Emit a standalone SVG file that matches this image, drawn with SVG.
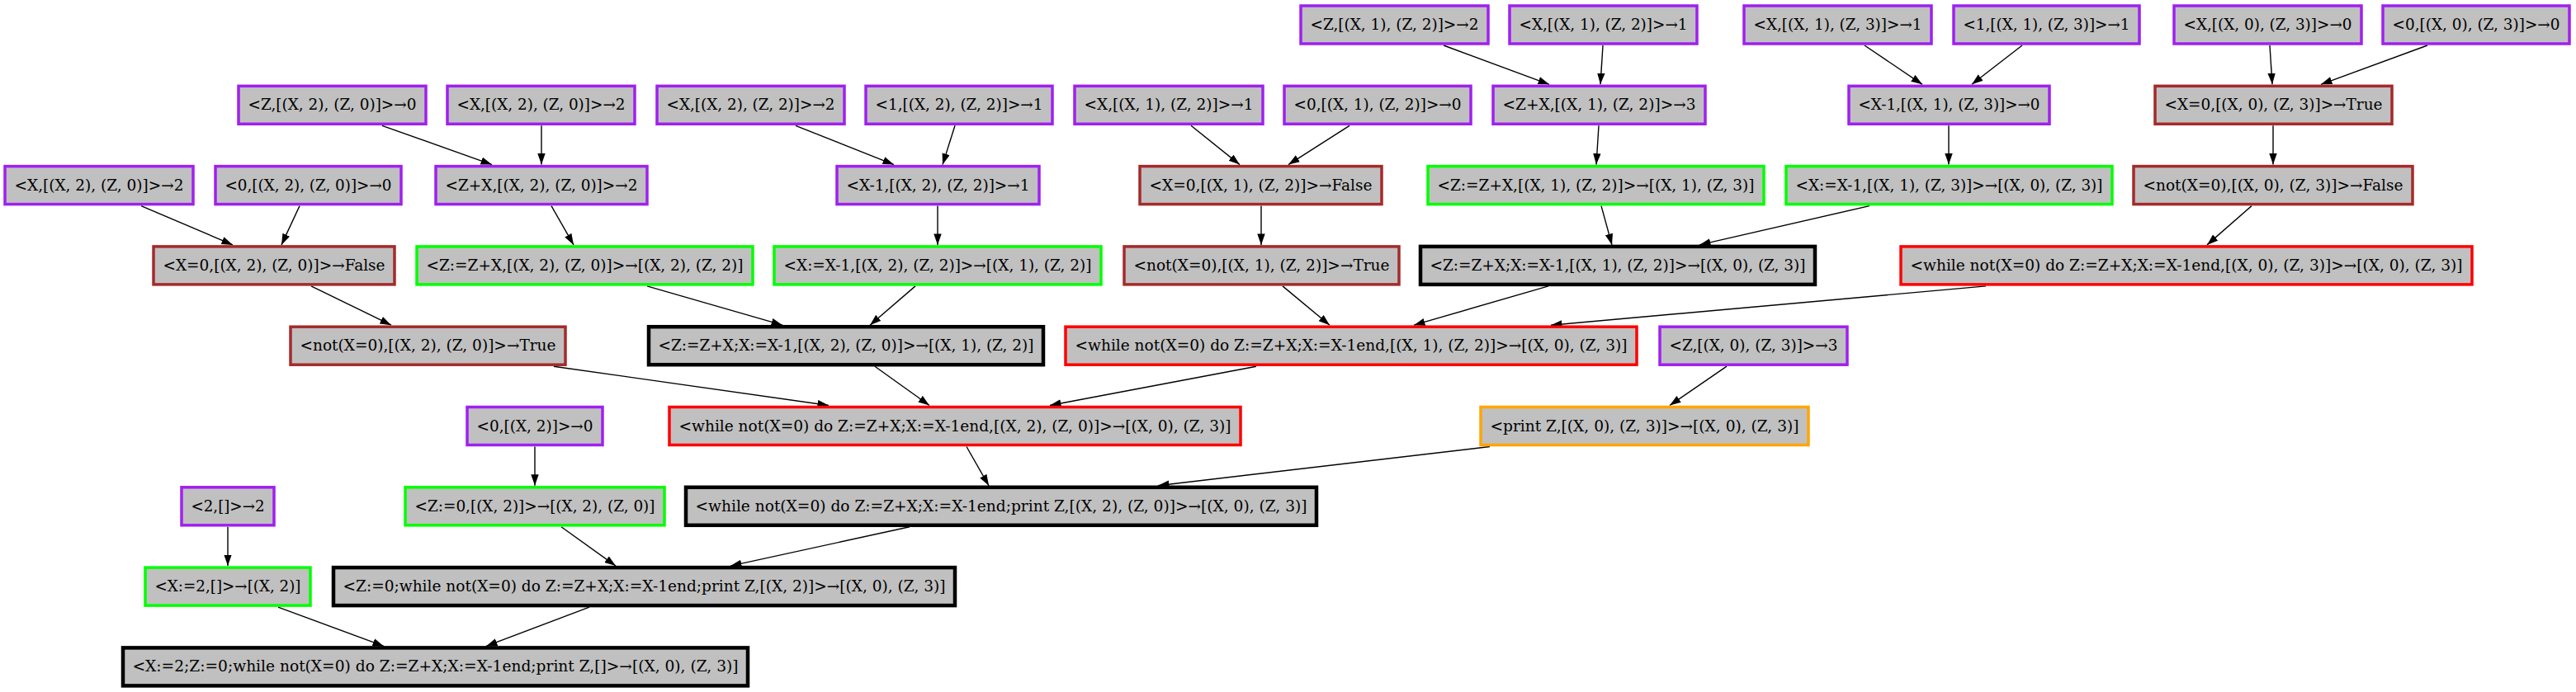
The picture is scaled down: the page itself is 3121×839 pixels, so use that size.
<svg xmlns="http://www.w3.org/2000/svg" width="3121" height="839" viewBox="0 0 3121 839">
<style>
rect{fill:#c0c0c0;stroke-width:3.5}
.p{stroke:#a020f0}.b{stroke:#a52a2a}.g{stroke:#00ff00}.r{stroke:#ff0000}.o{stroke:#ffa500}.k{stroke:#000;stroke-width:4.5}
text{font-family:"DejaVu Serif","Liberation Serif",serif;font-size:18.5px;fill:#000;text-anchor:middle}
#edges line{stroke:#000;stroke-width:1.4;marker-end:url(#ah)}
</style>
<defs>
<marker id="ah" markerUnits="userSpaceOnUse" markerWidth="14" markerHeight="10" refX="13.5" refY="4.7" orient="auto"><path d="M0,0L13.5,4.7L0,9.4z" fill="#000"/></marker>
</defs>
<rect x="0" y="0" width="3121" height="839" style="fill:#fff;stroke:none"/>
<g id="edges">
<line x1="1749" y1="55" x2="1877" y2="102.3"/>
<line x1="1942" y1="55" x2="1939" y2="102.3"/>
<line x1="2259" y1="55" x2="2329" y2="102.3"/>
<line x1="2450" y1="55" x2="2389" y2="102.3"/>
<line x1="2750" y1="55" x2="2753" y2="102.3"/>
<line x1="2941" y1="55" x2="2812" y2="102.3"/>
<line x1="463" y1="152.3" x2="596" y2="199.6"/>
<line x1="656" y1="152.3" x2="656" y2="199.6"/>
<line x1="964" y1="152.3" x2="1083" y2="199.6"/>
<line x1="1157" y1="152.3" x2="1142" y2="199.6"/>
<line x1="1443" y1="152.3" x2="1502" y2="199.6"/>
<line x1="1635" y1="152.3" x2="1561" y2="199.6"/>
<line x1="1937" y1="152.3" x2="1934" y2="199.6"/>
<line x1="2361" y1="152.3" x2="2361" y2="199.6"/>
<line x1="2754" y1="152.3" x2="2754" y2="199.6"/>
<line x1="171" y1="249.6" x2="282" y2="296.9"/>
<line x1="363" y1="249.6" x2="341" y2="296.9"/>
<line x1="668" y1="249.6" x2="695" y2="296.9"/>
<line x1="1136" y1="249.6" x2="1136" y2="296.9"/>
<line x1="1528" y1="249.6" x2="1528" y2="296.9"/>
<line x1="1940" y1="249.6" x2="1953" y2="296.9"/>
<line x1="2265" y1="249.6" x2="2059" y2="296.9"/>
<line x1="2728" y1="249.6" x2="2674" y2="296.9"/>
<line x1="377" y1="346.9" x2="474" y2="394.2"/>
<line x1="784" y1="346.9" x2="948" y2="394.2"/>
<line x1="1109" y1="346.9" x2="1054" y2="394.2"/>
<line x1="1554" y1="346.9" x2="1611" y2="394.2"/>
<line x1="1876" y1="346.9" x2="1713" y2="394.2"/>
<line x1="2406" y1="346.9" x2="1879" y2="394.2"/>
<line x1="671" y1="444.2" x2="1004" y2="491.5"/>
<line x1="1060" y1="444.2" x2="1126" y2="491.5"/>
<line x1="1522" y1="444.2" x2="1272" y2="491.5"/>
<line x1="2092" y1="444.2" x2="2023" y2="491.5"/>
<line x1="648" y1="541.5" x2="648" y2="588.8"/>
<line x1="1171" y1="541.5" x2="1198" y2="588.8"/>
<line x1="1805" y1="541.5" x2="1403" y2="588.8"/>
<line x1="276" y1="638.8" x2="276" y2="686.1"/>
<line x1="680" y1="638.8" x2="746" y2="686.1"/>
<line x1="1102" y1="638.8" x2="885" y2="686.1"/>
<line x1="337" y1="736.1" x2="465" y2="783.4"/>
<line x1="714" y1="736.1" x2="589" y2="783.4"/>
</g>
<g id="a1"><rect class="p" x="1576" y="7" width="227" height="46"/><text x="1689.5" y="36" textLength="204" lengthAdjust="spacingAndGlyphs">&lt;Z,[(X, 1), (Z, 2)]&gt;→2</text></g>
<g id="a2"><rect class="p" x="1829" y="7" width="227" height="46"/><text x="1942.5" y="36" textLength="204" lengthAdjust="spacingAndGlyphs">&lt;X,[(X, 1), (Z, 2)]&gt;→1</text></g>
<g id="a3"><rect class="p" x="2113" y="7" width="227" height="46"/><text x="2226.5" y="36" textLength="204" lengthAdjust="spacingAndGlyphs">&lt;X,[(X, 1), (Z, 3)]&gt;→1</text></g>
<g id="a4"><rect class="p" x="2367" y="7" width="225" height="46"/><text x="2479.5" y="36" textLength="202" lengthAdjust="spacingAndGlyphs">&lt;1,[(X, 1), (Z, 3)]&gt;→1</text></g>
<g id="a5"><rect class="p" x="2634" y="7" width="227" height="46"/><text x="2747.5" y="36" textLength="204" lengthAdjust="spacingAndGlyphs">&lt;X,[(X, 0), (Z, 3)]&gt;→0</text></g>
<g id="a6"><rect class="p" x="2887" y="7" width="226" height="46"/><text x="3000" y="36" textLength="203" lengthAdjust="spacingAndGlyphs">&lt;0,[(X, 0), (Z, 3)]&gt;→0</text></g>
<g id="b1"><rect class="p" x="289" y="104.3" width="227" height="46"/><text x="402.5" y="133.3" textLength="204" lengthAdjust="spacingAndGlyphs">&lt;Z,[(X, 2), (Z, 0)]&gt;→0</text></g>
<g id="b2"><rect class="p" x="542" y="104.3" width="227" height="46"/><text x="655.5" y="133.3" textLength="204" lengthAdjust="spacingAndGlyphs">&lt;X,[(X, 2), (Z, 0)]&gt;→2</text></g>
<g id="b3"><rect class="p" x="796" y="104.3" width="227" height="46"/><text x="909.5" y="133.3" textLength="204" lengthAdjust="spacingAndGlyphs">&lt;X,[(X, 2), (Z, 2)]&gt;→2</text></g>
<g id="b4"><rect class="p" x="1049" y="104.3" width="226" height="46"/><text x="1162" y="133.3" textLength="203" lengthAdjust="spacingAndGlyphs">&lt;1,[(X, 2), (Z, 2)]&gt;→1</text></g>
<g id="b5"><rect class="p" x="1302" y="104.3" width="228" height="46"/><text x="1416" y="133.3" textLength="205" lengthAdjust="spacingAndGlyphs">&lt;X,[(X, 1), (Z, 2)]&gt;→1</text></g>
<g id="b6"><rect class="p" x="1556" y="104.3" width="226" height="46"/><text x="1669" y="133.3" textLength="203" lengthAdjust="spacingAndGlyphs">&lt;0,[(X, 1), (Z, 2)]&gt;→0</text></g>
<g id="b7"><rect class="p" x="1809" y="104.3" width="257" height="46"/><text x="1937.5" y="133.3" textLength="234" lengthAdjust="spacingAndGlyphs">&lt;Z+X,[(X, 1), (Z, 2)]&gt;→3</text></g>
<g id="b8"><rect class="p" x="2240" y="104.3" width="243" height="46"/><text x="2361.5" y="133.3" textLength="220" lengthAdjust="spacingAndGlyphs">&lt;X-1,[(X, 1), (Z, 3)]&gt;→0</text></g>
<g id="b9"><rect class="b" x="2611" y="104.3" width="287" height="46"/><text x="2754.5" y="133.3" textLength="264" lengthAdjust="spacingAndGlyphs">&lt;X=0,[(X, 0), (Z, 3)]&gt;→True</text></g>
<g id="c1"><rect class="p" x="6" y="201.6" width="228" height="46"/><text x="120" y="230.6" textLength="205" lengthAdjust="spacingAndGlyphs">&lt;X,[(X, 2), (Z, 0)]&gt;→2</text></g>
<g id="c2"><rect class="p" x="261" y="201.6" width="225" height="46"/><text x="373.5" y="230.6" textLength="202" lengthAdjust="spacingAndGlyphs">&lt;0,[(X, 2), (Z, 0)]&gt;→0</text></g>
<g id="c3"><rect class="p" x="528" y="201.6" width="256" height="46"/><text x="656" y="230.6" textLength="233" lengthAdjust="spacingAndGlyphs">&lt;Z+X,[(X, 2), (Z, 0)]&gt;→2</text></g>
<g id="c4"><rect class="p" x="1014" y="201.6" width="245" height="46"/><text x="1136.5" y="230.6" textLength="222" lengthAdjust="spacingAndGlyphs">&lt;X-1,[(X, 2), (Z, 2)]&gt;→1</text></g>
<g id="c5"><rect class="b" x="1381" y="201.6" width="293" height="46"/><text x="1527.5" y="230.6" textLength="270" lengthAdjust="spacingAndGlyphs">&lt;X=0,[(X, 1), (Z, 2)]&gt;→False</text></g>
<g id="c6"><rect class="g" x="1730" y="201.6" width="407" height="46"/><text x="1933.5" y="230.6" textLength="384" lengthAdjust="spacingAndGlyphs">&lt;Z:=Z+X,[(X, 1), (Z, 2)]&gt;→[(X, 1), (Z, 3)]</text></g>
<g id="c7"><rect class="g" x="2164" y="201.6" width="395" height="46"/><text x="2361.5" y="230.6" textLength="372" lengthAdjust="spacingAndGlyphs">&lt;X:=X-1,[(X, 1), (Z, 3)]&gt;→[(X, 0), (Z, 3)]</text></g>
<g id="c8"><rect class="b" x="2585" y="201.6" width="338" height="46"/><text x="2754" y="230.6" textLength="315" lengthAdjust="spacingAndGlyphs">&lt;not(X=0),[(X, 0), (Z, 3)]&gt;→False</text></g>
<g id="d1"><rect class="b" x="186" y="298.9" width="292" height="46"/><text x="332" y="327.9" textLength="269" lengthAdjust="spacingAndGlyphs">&lt;X=0,[(X, 2), (Z, 0)]&gt;→False</text></g>
<g id="d2"><rect class="g" x="505" y="298.9" width="407" height="46"/><text x="708.5" y="327.9" textLength="384" lengthAdjust="spacingAndGlyphs">&lt;Z:=Z+X,[(X, 2), (Z, 0)]&gt;→[(X, 2), (Z, 2)]</text></g>
<g id="d3"><rect class="g" x="938" y="298.9" width="396" height="46"/><text x="1136" y="327.9" textLength="373" lengthAdjust="spacingAndGlyphs">&lt;X:=X-1,[(X, 2), (Z, 2)]&gt;→[(X, 1), (Z, 2)]</text></g>
<g id="d4"><rect class="b" x="1362" y="298.9" width="333" height="46"/><text x="1528.5" y="327.9" textLength="310" lengthAdjust="spacingAndGlyphs">&lt;not(X=0),[(X, 1), (Z, 2)]&gt;→True</text></g>
<g id="d5"><rect class="k" x="1721" y="298.9" width="478" height="46"/><text x="1960" y="327.9" textLength="455" lengthAdjust="spacingAndGlyphs">&lt;Z:=Z+X;X:=X-1,[(X, 1), (Z, 2)]&gt;→[(X, 0), (Z, 3)]</text></g>
<g id="d6"><rect class="r" x="2303" y="298.9" width="692" height="46"/><text x="2649" y="327.9" textLength="669" lengthAdjust="spacingAndGlyphs">&lt;while not(X=0) do Z:=Z+X;X:=X-1end,[(X, 0), (Z, 3)]&gt;→[(X, 0), (Z, 3)]</text></g>
<g id="e1"><rect class="b" x="352" y="396.2" width="333" height="46"/><text x="518.5" y="425.2" textLength="310" lengthAdjust="spacingAndGlyphs">&lt;not(X=0),[(X, 2), (Z, 0)]&gt;→True</text></g>
<g id="e2"><rect class="k" x="786" y="396.2" width="478" height="46"/><text x="1025" y="425.2" textLength="455" lengthAdjust="spacingAndGlyphs">&lt;Z:=Z+X;X:=X-1,[(X, 2), (Z, 0)]&gt;→[(X, 1), (Z, 2)]</text></g>
<g id="e3"><rect class="r" x="1291" y="396.2" width="692" height="46"/><text x="1637" y="425.2" textLength="669" lengthAdjust="spacingAndGlyphs">&lt;while not(X=0) do Z:=Z+X;X:=X-1end,[(X, 1), (Z, 2)]&gt;→[(X, 0), (Z, 3)]</text></g>
<g id="e4"><rect class="p" x="2011" y="396.2" width="227" height="46"/><text x="2124.5" y="425.2" textLength="204" lengthAdjust="spacingAndGlyphs">&lt;Z,[(X, 0), (Z, 3)]&gt;→3</text></g>
<g id="f1"><rect class="p" x="566" y="493.5" width="164" height="46"/><text x="648" y="522.5" textLength="141" lengthAdjust="spacingAndGlyphs">&lt;0,[(X, 2)]&gt;→0</text></g>
<g id="f2"><rect class="r" x="811" y="493.5" width="692" height="46"/><text x="1157" y="522.5" textLength="669" lengthAdjust="spacingAndGlyphs">&lt;while not(X=0) do Z:=Z+X;X:=X-1end,[(X, 2), (Z, 0)]&gt;→[(X, 0), (Z, 3)]</text></g>
<g id="f3"><rect class="o" x="1794" y="493.5" width="397" height="46"/><text x="1992.5" y="522.5" textLength="374" lengthAdjust="spacingAndGlyphs">&lt;print Z,[(X, 0), (Z, 3)]&gt;→[(X, 0), (Z, 3)]</text></g>
<g id="g1"><rect class="p" x="220" y="590.8" width="112" height="46"/><text x="276" y="619.8" textLength="89" lengthAdjust="spacingAndGlyphs">&lt;2,[]&gt;→2</text></g>
<g id="g2"><rect class="g" x="491" y="590.8" width="314" height="46"/><text x="648" y="619.8" textLength="291" lengthAdjust="spacingAndGlyphs">&lt;Z:=0,[(X, 2)]&gt;→[(X, 2), (Z, 0)]</text></g>
<g id="g3"><rect class="k" x="831" y="590.8" width="764" height="46"/><text x="1213" y="619.8" textLength="741" lengthAdjust="spacingAndGlyphs">&lt;while not(X=0) do Z:=Z+X;X:=X-1end;print Z,[(X, 2), (Z, 0)]&gt;→[(X, 0), (Z, 3)]</text></g>
<g id="h1"><rect class="g" x="176" y="688.1" width="200" height="46"/><text x="276" y="717.1" textLength="177" lengthAdjust="spacingAndGlyphs">&lt;X:=2,[]&gt;→[(X, 2)]</text></g>
<g id="h2"><rect class="k" x="404" y="688.1" width="753" height="46"/><text x="780.5" y="717.1" textLength="730" lengthAdjust="spacingAndGlyphs">&lt;Z:=0;while not(X=0) do Z:=Z+X;X:=X-1end;print Z,[(X, 2)]&gt;→[(X, 0), (Z, 3)]</text></g>
<g id="i1"><rect class="k" x="149" y="785.4" width="757" height="46"/><text x="527.5" y="814.4" textLength="734" lengthAdjust="spacingAndGlyphs">&lt;X:=2;Z:=0;while not(X=0) do Z:=Z+X;X:=X-1end;print Z,[]&gt;→[(X, 0), (Z, 3)]</text></g>
</svg>
